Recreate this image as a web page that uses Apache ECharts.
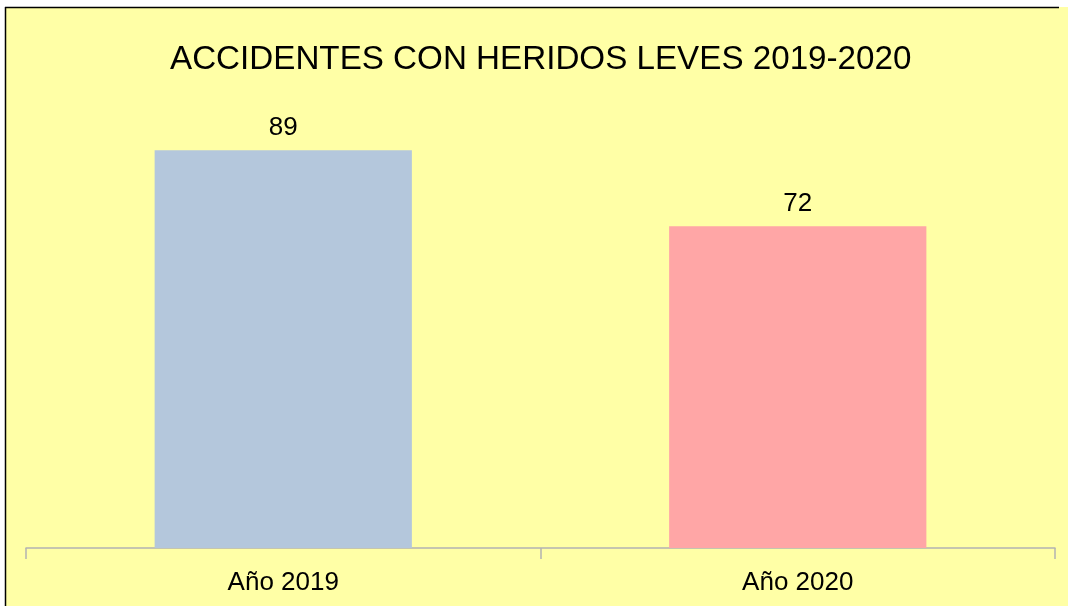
<!DOCTYPE html>
<html>
<head>
<meta charset="utf-8">
<style>html,body{margin:0;padding:0;background:#fff}#c{width:1068px;height:606px}</style>
<script src="https://cdn.jsdelivr.net/npm/echarts@6/dist/echarts.min.js"></script>
</head>
<body>
<div id="c"></div>
<script>
const categories = ["Año 2019", "Año 2020"];
const values = [89, 72];
const barColors = ["#b4c7dc", "#ffa6a6"];
const titleText = "ACCIDENTES CON HERIDOS LEVES 2019-2020";

const chart = echarts.init(document.getElementById('c'), null, {renderer: 'canvas'});
const font = "'Liberation Sans', Arial, sans-serif";
chart.setOption({
  backgroundColor: '#ffffff',
  animation: false,
  graphic: [
    {type: 'rect', z: -10, silent: true, shape: {x: 5, y: 7, width: 1070, height: 610}, style: {fill: '#ffffa6'}},
    {type: 'line', z: 100, silent: true, shape: {x1: 5.5, y1: 7, x2: 5.5, y2: 610}, style: {stroke: '#000', lineWidth: 1.5}},
    {type: 'line', z: 100, silent: true, shape: {x1: 5, y1: 7.5, x2: 1059, y2: 7.5}, style: {stroke: '#000', lineWidth: 1.5}}
  ],
  title: {
    text: titleText,
    left: 165,
    top: 38,
    textStyle: {fontFamily: font, fontSize: 33.2, fontWeight: 'normal', color: '#000'}
  },
  grid: {left: 26, right: 13, top: 101, bottom: 58, containLabel: false},
  xAxis: {
    type: 'category',
    data: categories,
    axisLine: {lineStyle: {color: '#b3b3b3', width: 1.5}},
    axisTick: {show: true, length: 11, lineStyle: {color: '#b3b3b3', width: 1.5}},
    axisLabel: {fontFamily: font, fontSize: 26, color: '#000', margin: 22}
  },
  yAxis: {
    type: 'value', min: 0, max: 100, show: false
  },
  series: [{
    type: 'bar',
    data: values.map((v, i) => ({value: v, itemStyle: {color: barColors[i]}})),
    barWidth: '50%',
    label: {show: true, position: 'top', distance: 9, fontFamily: font, fontSize: 26, color: '#000'}
  }]
});
</script>
</body>
</html>
